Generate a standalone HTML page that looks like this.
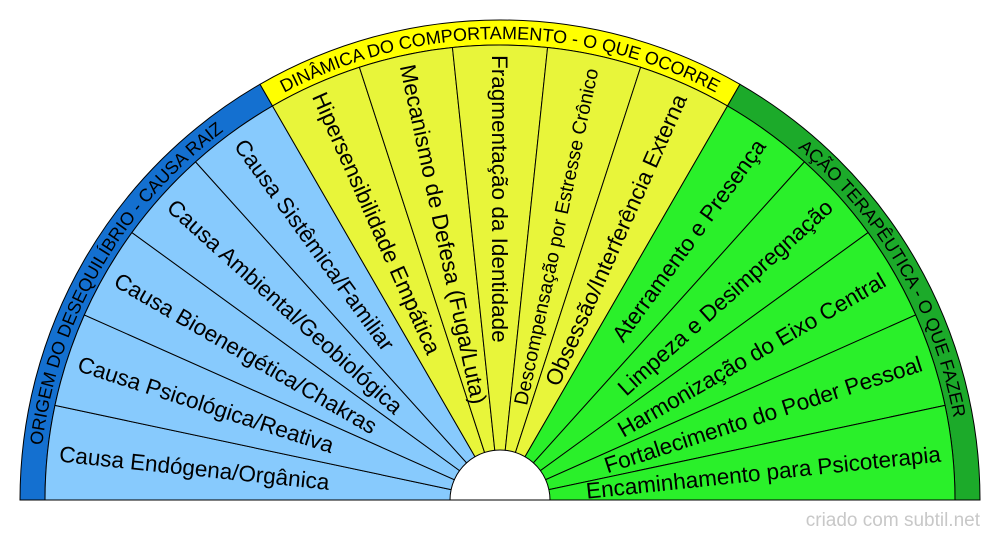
<!DOCTYPE html>
<html><head><meta charset="utf-8"><style>
html,body{margin:0;padding:0;background:#fff;width:1000px;height:540px;overflow:hidden;}
svg{display:block;font-family:"Liberation Sans",Arial,sans-serif;}
</style></head><body>
<svg width="1000" height="540" viewBox="0 0 1000 540" xmlns="http://www.w3.org/2000/svg">
<defs>
<path id="wedge" d="M45,500 A455,455 0 0 1 54.96,405.40 L451.09,489.60 A50,50 0 0 0 450,500 Z"/>
<path id="p1" d="M39,500 A461,461 0 0 1 269.5,100.8"/>
<path id="p2" d="M269.5,100.8 A461,461 0 0 1 730.5,100.8"/>
<path id="p3" d="M730.5,100.8 A461,461 0 0 1 961,500"/>
</defs>
<path d="M20,500 A480,480 0 0 1 260,84.3 L272.5,106 A455,455 0 0 0 45,500 Z" fill="#1470D0" stroke="#000" stroke-width="1"/>
<path d="M260,84.3 A480,480 0 0 1 740,84.3 L727.5,106 A455,455 0 0 0 272.5,106 Z" fill="#FFFF00" stroke="#000" stroke-width="1"/>
<path d="M740,84.3 A480,480 0 0 1 980,500 L955,500 A455,455 0 0 0 727.5,106 Z" fill="#1CAA2A" stroke="#000" stroke-width="1"/>
<g stroke="#000" stroke-width="1">
<use href="#wedge" fill="#87CAFD" transform="rotate(0 500 500)"/>
<use href="#wedge" fill="#87CAFD" transform="rotate(12 500 500)"/>
<use href="#wedge" fill="#87CAFD" transform="rotate(24 500 500)"/>
<use href="#wedge" fill="#87CAFD" transform="rotate(36 500 500)"/>
<use href="#wedge" fill="#87CAFD" transform="rotate(48 500 500)"/>
<use href="#wedge" fill="#E8F53A" transform="rotate(60 500 500)"/>
<use href="#wedge" fill="#E8F53A" transform="rotate(72 500 500)"/>
<use href="#wedge" fill="#E8F53A" transform="rotate(84 500 500)"/>
<use href="#wedge" fill="#E8F53A" transform="rotate(96 500 500)"/>
<use href="#wedge" fill="#E8F53A" transform="rotate(108 500 500)"/>
<use href="#wedge" fill="#2AF02A" transform="rotate(120 500 500)"/>
<use href="#wedge" fill="#2AF02A" transform="rotate(132 500 500)"/>
<use href="#wedge" fill="#2AF02A" transform="rotate(144 500 500)"/>
<use href="#wedge" fill="#2AF02A" transform="rotate(156 500 500)"/>
<use href="#wedge" fill="#2AF02A" transform="rotate(168 500 500)"/>
</g>
<line x1="20" y1="500" x2="980" y2="500" stroke="#000" stroke-width="1"/>
<g font-size="18" fill="#000">
<text><textPath href="#p1" startOffset="50%" text-anchor="middle">ORIGEM DO DESEQUILÍBRIO - CAUSA RAIZ</textPath></text>
<text><textPath href="#p2" startOffset="50%" text-anchor="middle">DINÂMICA DO COMPORTAMENTO - O QUE OCORRE</textPath></text>
<text><textPath href="#p3" startOffset="50%" text-anchor="middle">AÇÃO TERAPÊUTICA - O QUE FAZER</textPath></text>
</g>
<g font-size="22.5" fill="#000">
<text x="57" y="500" dy="0.35em" transform="rotate(6 500 500)">Causa Endógena/Orgânica</text>
<text x="57" y="500" dy="0.35em" transform="rotate(18 500 500)">Causa Psicológica/Reativa</text>
<text x="57" y="500" dy="0.35em" transform="rotate(30 500 500)">Causa Bioenergética/Chakras</text>
<text x="57" y="500" dy="0.35em" transform="rotate(42 500 500)">Causa Ambiental/Geobiológica</text>
<text x="57" y="500" dy="0.35em" transform="rotate(54 500 500)">Causa Sistêmica/Familiar</text>
<text x="55" y="500" dy="0.35em" transform="rotate(66 500 500)">Hipersensibilidade Empática</text>
<text x="55" y="500" dy="0.35em" transform="rotate(78 500 500)">Mecanismo de Defesa (Fuga/Luta)</text>
<text x="55" y="500" dy="0.35em" transform="rotate(90 500 500)">Fragmentação da Identidade</text>
<text x="941" y="500" dy="0.35em" font-size="19.5" text-anchor="end" transform="rotate(-78 500 500)">Descompensação por Estresse Crônico</text>
<text x="943" y="500" dy="0.35em" text-anchor="end" transform="rotate(-66 500 500)">Obsessão/Interferência Externa</text>
<text x="943" y="500" dy="0.35em" text-anchor="end" transform="rotate(-54 500 500)">Aterramento e Presença</text>
<text x="943" y="500" dy="0.35em" text-anchor="end" transform="rotate(-42 500 500)">Limpeza e Desimpregnação</text>
<text x="943" y="500" dy="0.35em" text-anchor="end" transform="rotate(-30 500 500)">Harmonização do Eixo Central</text>
<text x="943" y="500" dy="0.35em" text-anchor="end" transform="rotate(-18 500 500)">Fortalecimento do Poder Pessoal</text>
<text x="943" y="500" dy="0.35em" text-anchor="end" transform="rotate(-6 500 500)">Encaminhamento para Psicoterapia</text>
</g>
<text x="980" y="526" text-anchor="end" font-size="19" fill="#c8c8c8">criado com subtil.net</text>
</svg>
</body></html>
